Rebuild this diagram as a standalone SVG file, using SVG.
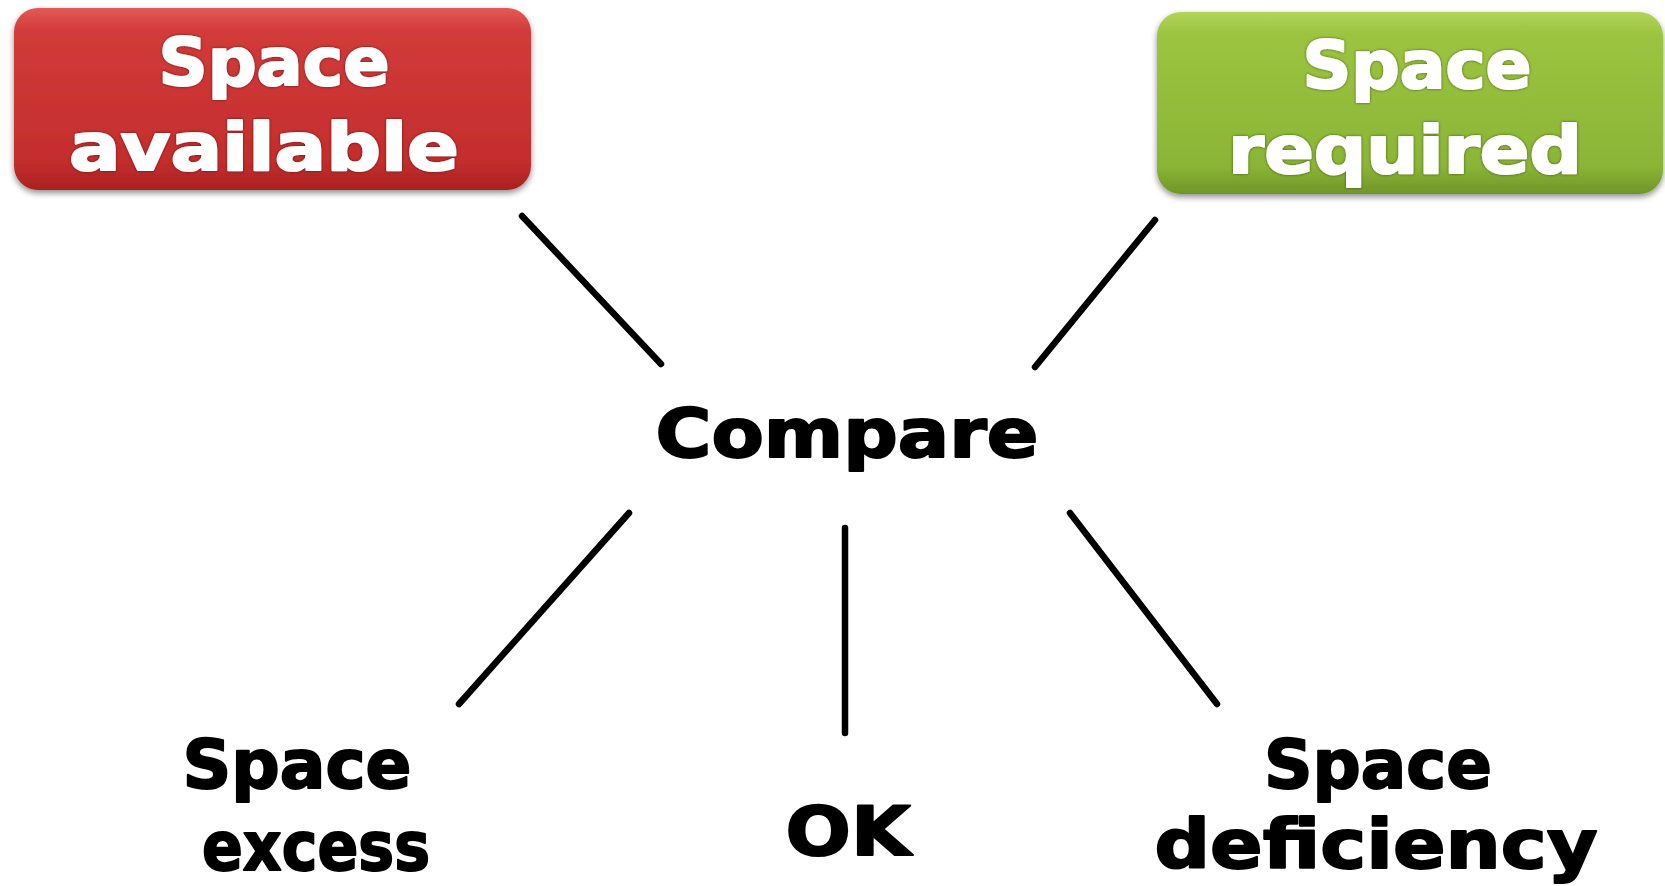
<svg xmlns="http://www.w3.org/2000/svg" width="1665" height="886" viewBox="0 0 1665 886">
<defs>
<linearGradient id="gRed" x1="0" y1="0" x2="0" y2="1">
<stop offset="0" stop-color="#e25a57"/>
<stop offset="0.12" stop-color="#d23b3a"/>
<stop offset="0.85" stop-color="#c42d2c"/>
<stop offset="1" stop-color="#a82222"/>
</linearGradient>
<linearGradient id="gGreen" x1="0" y1="0" x2="0" y2="1">
<stop offset="0" stop-color="#b2d45a"/>
<stop offset="0.12" stop-color="#9cc440"/>
<stop offset="0.85" stop-color="#8ab536"/>
<stop offset="1" stop-color="#6f9528"/>
</linearGradient>
<filter id="shadow" x="-10%" y="-10%" width="120%" height="130%">
<feGaussianBlur in="SourceAlpha" stdDeviation="3"/>
<feOffset dx="0" dy="3" result="b"/>
<feComponentTransfer><feFuncA type="linear" slope="0.45"/></feComponentTransfer>
<feMerge><feMergeNode/><feMergeNode in="SourceGraphic"/></feMerge>
</filter>
<filter id="tglow" x="-10%" y="-20%" width="120%" height="140%">
<feGaussianBlur in="SourceAlpha" stdDeviation="1.5"/>
<feComponentTransfer><feFuncA type="linear" slope="0.5"/></feComponentTransfer>
<feMerge><feMergeNode/><feMergeNode in="SourceGraphic"/></feMerge>
</filter>
</defs>
<style>
.t{font-family:"DejaVu Sans","Liberation Sans",sans-serif;font-weight:bold;text-anchor:middle;stroke-width:2;stroke-linejoin:round}
.w{fill:#ffffff;stroke:#ffffff;font-size:66px}
.k{fill:#000000;stroke:#000000;font-size:68px}
.c{stroke:#000000;stroke-width:6.5;stroke-linecap:round;fill:none}
</style>
<rect width="1665" height="886" fill="#ffffff"/>
<g id="space-available">
<rect x="14" y="8" width="517" height="182" rx="24" fill="url(#gRed)" filter="url(#shadow)"/>
<g filter="url(#tglow)">
<text class="t w" x="274" y="85" textLength="231" lengthAdjust="spacingAndGlyphs">Space</text>
<text class="t w" x="264" y="170" textLength="390" lengthAdjust="spacingAndGlyphs">available</text>
</g>
</g>
<g id="space-required">
<rect x="1157" y="12" width="506" height="182" rx="24" fill="url(#gGreen)" filter="url(#shadow)"/>
<g filter="url(#tglow)">
<text class="t w" x="1417" y="88" textLength="229" lengthAdjust="spacingAndGlyphs">Space</text>
<text class="t w" x="1405" y="173" textLength="354" lengthAdjust="spacingAndGlyphs">required</text>
</g>
</g>
<g id="compare">
<text class="t k" x="847" y="457" font-size="72" textLength="383" lengthAdjust="spacingAndGlyphs">Compare</text>
</g>
<g id="space-excess">
<text class="t k" x="297" y="788" textLength="229" lengthAdjust="spacingAndGlyphs">Space</text>
<text class="t k" x="316" y="870" textLength="228" lengthAdjust="spacingAndGlyphs">excess</text>
</g>
<g id="ok">
<text class="t k" x="848" y="855" font-size="70" textLength="125" lengthAdjust="spacingAndGlyphs">OK</text>
</g>
<g id="space-deficiency">
<text class="t k" x="1378" y="788" textLength="228" lengthAdjust="spacingAndGlyphs">Space</text>
<text class="t k" x="1376" y="868" font-size="66" textLength="443" lengthAdjust="spacingAndGlyphs">deficiency</text>
</g>
<g id="connectors">
<line class="c" x1="522" y1="216" x2="661" y2="364"/>
<line class="c" x1="1155" y1="220" x2="1035" y2="367"/>
<line class="c" x1="629" y1="513" x2="459" y2="704"/>
<line class="c" x1="845" y1="528" x2="845" y2="733"/>
<line class="c" x1="1070" y1="513" x2="1217" y2="704"/>
</g>
</svg>
